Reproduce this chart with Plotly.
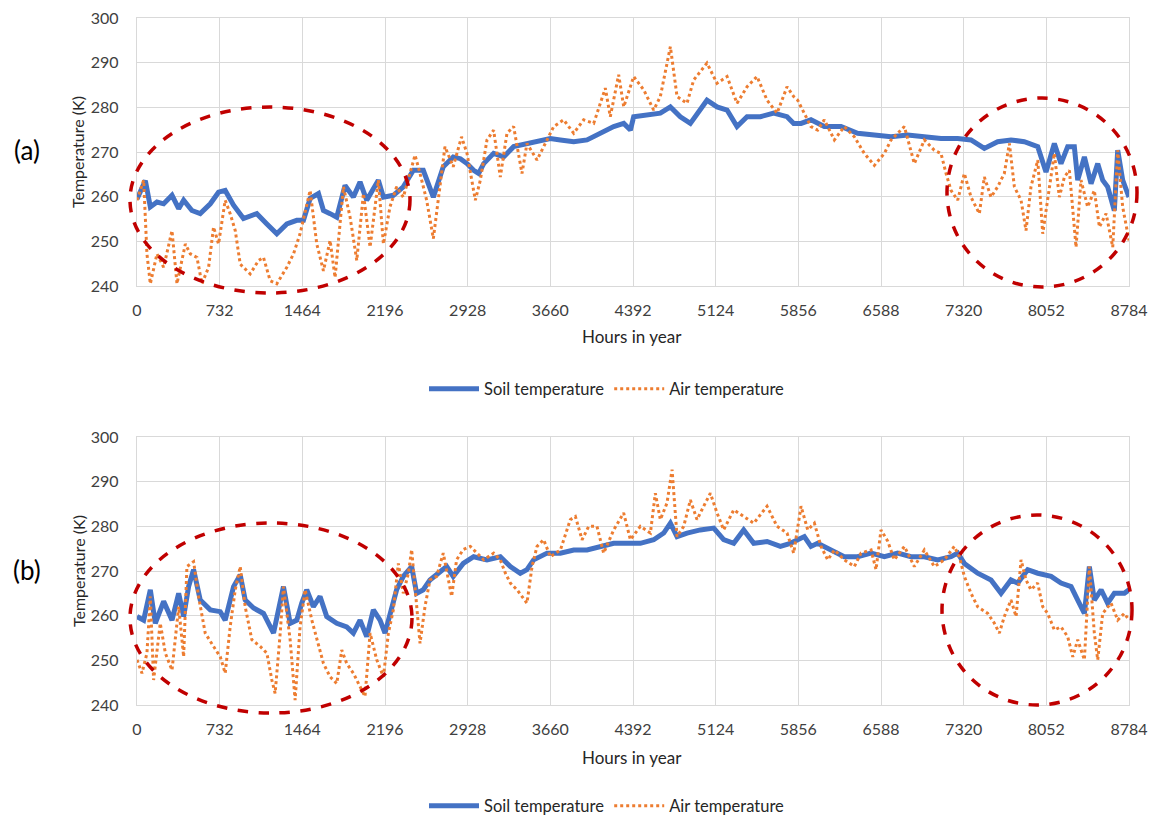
import plotly.graph_objects as go

# ---------------- data ----------------
tick_hours = [0, 732, 1464, 2196, 2928, 3660, 4392, 5124, 5856, 6588, 7320, 8052, 8784]

a_soil_h = [0, 74, 118, 177, 236, 310, 369, 413, 486, 560, 649, 722, 781, 855, 943, 1061, 1150, 1238, 1327, 1415,
            1474, 1533, 1607, 1651, 1710, 1769, 1842, 1916, 1975, 2034, 2137, 2182, 2270, 2358, 2447, 2535, 2624, 2712,
            2800, 2863, 2922, 2981, 3025, 3070, 3158, 3247, 3335, 3453, 3572, 3660, 3749, 3867, 3985, 4103, 4221, 4310,
            4369, 4398, 4516, 4634, 4723, 4811, 4900, 4988, 5047, 5136, 5225, 5313, 5402, 5520, 5638, 5756, 5815, 5880,
            5968, 6086, 6234, 6381, 6529, 6677, 6824, 6972, 7119, 7267, 7385, 7503, 7621, 7739, 7857, 7976, 8049, 8123,
            8182, 8241, 8300, 8330, 8389, 8448, 8507, 8551, 8595, 8654, 8684, 8728, 8784]
a_soil_t = [259.5, 263.6, 257.7, 258.8, 258.4, 260.3, 257.3, 259.2, 256.9, 256.2, 258.4, 261.0, 261.4, 258.1, 255.1,
            256.2, 253.9, 251.7, 253.9, 254.7, 254.7, 259.6, 260.7, 256.9, 256.2, 255.4, 262.5, 259.9, 263.3, 259.2,
            263.7, 259.9, 260.3, 262.2, 265.9, 265.9, 259.9, 266.7, 268.9, 268.5, 267.4, 265.9, 265.2, 267.4, 269.7,
            268.9, 271.2, 271.9, 272.7, 273.0, 272.7, 272.3, 272.7, 274.2, 275.7, 276.4, 274.9, 277.9, 278.3, 278.7,
            280.1, 277.9, 276.4, 279.4, 281.6, 280.1, 279.4, 275.7, 277.9, 277.9, 278.7, 277.9, 276.4, 276.4, 277.2,
            275.7, 275.7, 274.2, 273.8, 273.4, 273.8, 273.4, 273.0, 273.0, 272.7, 270.8, 272.3, 272.7, 272.3, 271.2,
            265.5, 271.9, 267.4, 271.2, 271.2, 263.7, 268.9, 262.9, 267.4, 263.7, 262.2, 256.9, 270.4, 263.7, 259.9]

a_air_h = [0, 59, 88, 118, 177, 236, 310, 354, 428, 472, 531, 575, 634, 678, 722, 781, 825, 870, 914, 1002, 1076,
           1120, 1179, 1238, 1327, 1386, 1444, 1503, 1533, 1592, 1651, 1710, 1754, 1828, 1887, 1946, 2005, 2064, 2137,
           2182, 2240, 2299, 2358, 2417, 2462, 2506, 2565, 2624, 2683, 2727, 2800, 2874, 2922, 2981, 2996, 3040, 3099,
           3158, 3217, 3276, 3335, 3409, 3453, 3542, 3631, 3690, 3778, 3867, 3955, 4044, 4147, 4191, 4265, 4310, 4398,
           4487, 4575, 4634, 4723, 4782, 4870, 4929, 5047, 5136, 5225, 5313, 5402, 5490, 5579, 5668, 5756, 5815, 5850,
           5909, 5968, 6027, 6086, 6175, 6263, 6352, 6440, 6529, 6618, 6677, 6795, 6883, 6972, 7060, 7119, 7164, 7208,
           7267, 7326, 7385, 7459, 7503, 7562, 7621, 7680, 7725, 7769, 7828, 7872, 7916, 7976, 8020, 8064, 8123, 8167,
           8212, 8256, 8315, 8359, 8418, 8477, 8522, 8581, 8640, 8684, 8728, 8784]
a_air_t = [259.2, 263.7, 247.2, 240.5, 247.2, 244.2, 252.4, 240.5, 249.4, 247.2, 246.4, 240.5, 244.2, 253.2, 249.4,
           259.2, 256.2, 252.4, 244.9, 242.7, 245.7, 246.4, 241.2, 240.5, 244.2, 247.2, 251.7, 257.7, 261.4, 249.4,
           243.4, 250.2, 241.9, 262.2, 255.4, 245.7, 260.7, 248.7, 263.7, 249.4, 257.7, 262.2, 259.9, 265.2, 269.3,
           265.2, 259.2, 250.6, 262.2, 271.2, 266.7, 273.4, 269.7, 260.7, 259.2, 263.7, 272.7, 274.9, 264.4, 274.2,
           275.7, 265.2, 271.9, 268.2, 272.7, 275.7, 277.2, 274.2, 277.2, 276.4, 284.3, 277.9, 287.3, 280.1, 286.9,
           283.9, 279.4, 282.4, 293.6, 282.4, 280.9, 286.1, 289.9, 285.4, 286.9, 280.9, 284.6, 286.9, 281.6, 278.7,
           284.6, 282.4, 281.6, 278.7, 275.7, 274.9, 277.2, 272.7, 275.7, 273.4, 269.7, 267.0, 269.7, 272.7, 275.7,
           267.4, 272.7, 270.4, 269.7, 265.2, 261.4, 259.2, 265.2, 259.9, 256.2, 264.4, 259.9, 262.2, 265.2, 271.9,
           262.2, 259.2, 252.4, 262.2, 268.2, 251.7, 259.2, 269.7, 259.9, 264.4, 265.9, 248.7, 263.7, 257.7, 261.4,
           253.2, 256.2, 248.7, 270.4, 257.7, 250.2]

b_soil_h = [0, 59, 118, 162, 236, 310, 369, 413, 457, 501, 560, 649, 737, 781, 855, 914, 958, 1032, 1120, 1209, 1253,
            1297, 1356, 1415, 1459, 1503, 1562, 1621, 1680, 1769, 1857, 1916, 1975, 2034, 2093, 2152, 2196, 2240, 2299,
            2358, 2432, 2476, 2535, 2594, 2683, 2742, 2800, 2889, 2981, 3099, 3217, 3306, 3394, 3453, 3512, 3631, 3749,
            3867, 3985, 4103, 4221, 4339, 4457, 4575, 4664, 4723, 4782, 4871, 4988, 5107, 5195, 5284, 5372, 5461, 5579,
            5697, 5785, 5909, 5968, 6027, 6145, 6263, 6381, 6500, 6618, 6736, 6854, 6972, 7090, 7208, 7267, 7326, 7444,
            7562, 7651, 7739, 7798, 7887, 7976, 8094, 8182, 8271, 8330, 8389, 8433, 8477, 8537, 8595, 8654, 8743, 8784]
b_soil_t = [259.8, 259.0, 265.8, 258.3, 263.2, 259.0, 265.0, 259.8, 266.5, 270.3, 263.5, 261.3, 260.9, 259.0, 266.5,
            269.1, 263.5, 261.7, 260.5, 256.1, 261.3, 266.5, 258.3, 259.0, 262.8, 265.8, 262.0, 264.3, 259.8, 258.3,
            257.5, 256.1, 259.0, 255.3, 261.3, 259.0, 256.1, 260.5, 265.8, 268.8, 271.0, 265.0, 265.8, 268.0, 269.6,
            271.0, 268.8, 271.7, 273.2, 272.5, 273.2, 271.0, 269.5, 270.3, 272.5, 274.0, 274.0, 274.7, 274.7, 275.5,
            276.2, 276.2, 276.2, 277.0, 278.5, 280.7, 277.7, 278.5, 279.2, 279.6, 277.0, 276.2, 279.2, 276.2, 276.6,
            275.5, 276.2, 277.7, 275.5, 276.2, 274.7, 273.2, 273.2, 274.0, 273.2, 274.0, 273.2, 273.2, 272.5, 273.2,
            274.0, 271.7, 269.5, 268.0, 265.0, 268.0, 267.3, 270.3, 269.5, 268.8, 267.3, 266.5, 263.5, 260.5, 271.0,
            263.5, 265.8, 262.8, 265.0, 265.0, 265.8]

b_air_h = [0, 44, 88, 118, 147, 206, 251, 310, 369, 413, 442, 501, 545, 604, 678, 737, 781, 825, 870, 914, 958, 1017,
           1091, 1150, 1194, 1223, 1268, 1297, 1356, 1400, 1444, 1489, 1548, 1592, 1651, 1710, 1769, 1813, 1857, 1916,
           1975, 2019, 2064, 2123, 2182, 2226, 2270, 2314, 2358, 2403, 2432, 2476, 2506, 2550, 2594, 2653, 2712, 2786,
           2830, 2889, 2952, 3011, 3070, 3158, 3217, 3262, 3306, 3365, 3409, 3453, 3498, 3542, 3601, 3660, 3749, 3837,
           3882, 3941, 4000, 4073, 4132, 4221, 4309, 4369, 4457, 4546, 4590, 4634, 4693, 4738, 4782, 4841, 4900, 4959,
           5018, 5077, 5136, 5195, 5284, 5372, 5461, 5579, 5667, 5756, 5815, 5880, 5939, 5998, 6057, 6116, 6175, 6263,
           6352, 6411, 6500, 6544, 6588, 6647, 6706, 6795, 6883, 6972, 7060, 7149, 7237, 7282, 7326, 7385, 7444, 7533,
           7592, 7636, 7680, 7739, 7784, 7828, 7872, 7916, 7975, 8020, 8064, 8123, 8182, 8241, 8286, 8330, 8389, 8433,
           8477, 8507, 8551, 8625, 8684, 8743, 8784]
b_air_t = [250.1, 247.1, 251.6, 264.3, 245.6, 258.3, 251.6, 247.8, 262.0, 250.8, 271.0, 272.1, 264.3, 256.1, 253.1,
           250.8, 247.1, 257.5, 265.8, 271.0, 262.0, 254.6, 253.1, 251.6, 245.6, 242.6, 256.1, 266.5, 254.6, 241.1,
           257.5, 265.8, 259.0, 254.6, 249.3, 246.3, 244.8, 252.3, 249.3, 247.1, 244.1, 241.9, 256.1, 250.1, 246.3,
           256.1, 261.3, 271.7, 265.0, 269.5, 274.8, 262.0, 253.8, 262.0, 268.0, 268.8, 274.0, 264.3, 272.5, 274.8,
           275.5, 274.0, 272.5, 274.0, 272.5, 269.5, 267.3, 265.8, 264.3, 262.8, 271.0, 275.5, 277.0, 273.2, 274.7,
           281.5, 282.2, 277.0, 280.0, 280.0, 274.0, 279.2, 283.0, 277.0, 280.0, 278.5, 287.4, 281.5, 285.2, 292.7,
           277.7, 280.0, 285.9, 281.5, 284.5, 287.4, 283.0, 279.2, 283.7, 282.2, 280.7, 284.5, 280.0, 278.5, 274.0,
           284.5, 279.2, 280.7, 275.5, 272.5, 274.7, 272.5, 271.0, 274.0, 274.7, 270.3, 279.2, 276.7, 272.5, 275.5,
           271.0, 274.7, 271.0, 272.5, 275.5, 273.2, 268.8, 265.0, 262.0, 260.5, 258.3, 256.1, 259.8, 263.5, 259.8,
           272.5, 268.0, 265.8, 267.3, 262.0, 260.5, 256.8, 257.5, 255.3, 250.8, 254.6, 250.1, 271.0, 256.1, 250.1,
           260.5, 262.8, 259.0, 260.5, 259.0]

# ---------------- styling / layout ----------------
W, H = 1150, 816
ML, MR, MT, MB = 137, 21, 18, 111
PW, PH = W - ML - MR, H - MT - MB

def px(x):
    return (x - ML) / PW

def py(y):
    return (H - MB - y) / PH

SOIL = "#4472C4"
AIR = "#ED7D31"
GRID = "#D9D9D9"
FONT = "Lato, 'Open Sans', sans-serif"
TEXTC = "#262626"
TICKC = "#404040"

fig = go.Figure()
fig.add_trace(go.Scatter(x=a_soil_h, y=a_soil_t, mode="lines", name="Soil temperature",
                         line=dict(color=SOIL, width=5), xaxis="x", yaxis="y", legend="legend"))
fig.add_trace(go.Scatter(x=a_air_h, y=a_air_t, mode="lines", name="Air temperature",
                         line=dict(color=AIR, width=3, dash="dot"), xaxis="x", yaxis="y", legend="legend"))
fig.add_trace(go.Scatter(x=b_soil_h, y=b_soil_t, mode="lines", name="Soil temperature",
                         line=dict(color=SOIL, width=5), xaxis="x2", yaxis="y2", legend="legend2"))
fig.add_trace(go.Scatter(x=b_air_h, y=b_air_t, mode="lines", name="Air temperature",
                         line=dict(color=AIR, width=3, dash="dot"), xaxis="x2", yaxis="y2", legend="legend2"))

xcommon = dict(range=[0, 8784], tickmode="array", tickvals=tick_hours, ticktext=[str(v) for v in tick_hours],
               showgrid=True, gridcolor=GRID, gridwidth=1.3, zeroline=False, showline=True, linecolor=GRID,
               linewidth=1.3, mirror=True, tickfont=dict(size=16, color=TICKC, family=FONT),
               ticks="", ticklabelstandoff=10)
ycommon = dict(range=[240, 300], tickmode="array", tickvals=[240, 250, 260, 270, 280, 290, 300],
               showgrid=True, gridcolor=GRID, gridwidth=1.3, zeroline=False, showline=True, linecolor=GRID,
               linewidth=1.3, mirror=True, tickfont=dict(size=16, color=TICKC, family=FONT),
               ticks="", ticklabelstandoff=14)

legcommon = dict(orientation="h", xanchor="center", yanchor="middle",
                 font=dict(size=16.5, color=TEXTC, family=FONT), itemwidth=50,
                 bgcolor="rgba(0,0,0,0)", tracegroupgap=0)

fig.update_layout(
    width=W, height=H, margin=dict(l=ML, r=MR, t=MT, b=MB, autoexpand=False),
    paper_bgcolor="white", plot_bgcolor="white",
    font=dict(family=FONT, color=TEXTC),
    xaxis=dict(xcommon, domain=[0, 1], anchor="y"),
    yaxis=dict(ycommon, domain=[py(286), 1], anchor="x"),
    xaxis2=dict(xcommon, domain=[0, 1], anchor="y2"),
    yaxis2=dict(ycommon, domain=[0, py(437)], anchor="x2"),
    legend=dict(legcommon, x=px(607), y=py(389)),
    legend2=dict(legcommon, x=px(607), y=py(806)),
    showlegend=True,
)

for txt, yy in (("(a)", 150), ("(b)", 570)):
    fig.add_annotation(text=txt, x=px(27), y=py(yy), xref="paper", yref="paper", showarrow=False,
                       font=dict(size=26, color="black", family=FONT), xanchor="center", yanchor="middle")
for yy in (336, 757):
    fig.add_annotation(text="Hours in year", x=px(632), y=py(yy), xref="paper", yref="paper", showarrow=False,
                       font=dict(size=17, color=TEXTC, family=FONT), xanchor="center", yanchor="middle")
for yy in (152, 571):
    fig.add_annotation(text="Temperature (K)", x=px(78), y=py(yy), xref="paper", yref="paper", showarrow=False,
                       textangle=-90, font=dict(size=16, color=TEXTC, family=FONT),
                       xanchor="center", yanchor="middle")

# dashed red ellipses (paper coordinates)
ellipses = [(130, 107, 410, 293), (947, 98, 1137, 287), (130, 523, 412, 713), (942, 515, 1132, 705)]
for x0, y0, x1, y1 in ellipses:
    fig.add_shape(type="circle", xref="paper", yref="paper", x0=px(x0), x1=px(x1), y0=py(y1), y1=py(y0),
                  line=dict(color="#C00000", width=3.5, dash="dash"), layer="above")

fig.write_html("out.html")
